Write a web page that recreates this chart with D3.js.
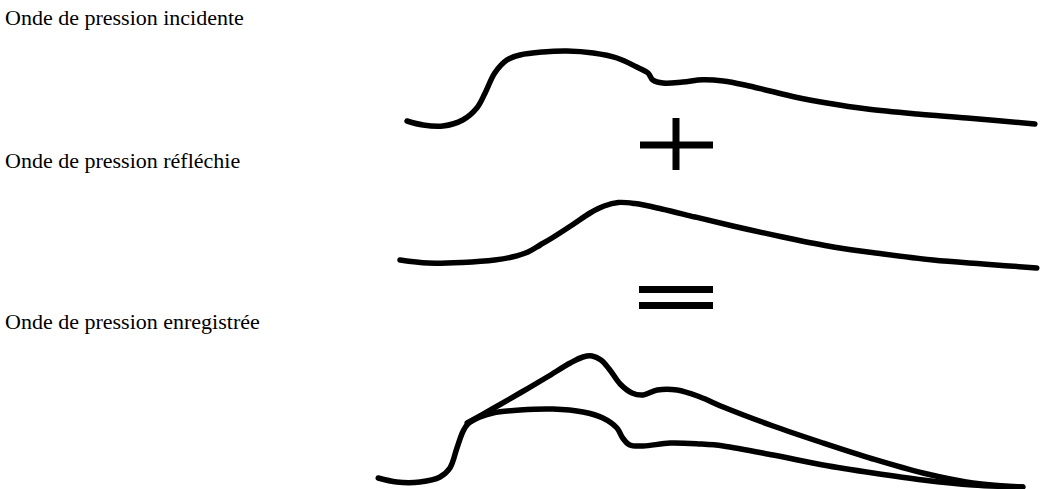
<!DOCTYPE html>
<html>
<head>
<meta charset="utf-8">
<script src="https://cdn.jsdelivr.net/npm/d3@7"></script>
<style>
  body { margin: 0; background: #fff; }
  svg { display: block; }
  .label { font-family: 'Liberation Serif', 'Times New Roman', serif; font-size: 22px; fill: #000; }
  .wave { fill: none; stroke: #000; stroke-width: 5.5px; stroke-linecap: round; stroke-linejoin: round; }
  .sign { stroke: #000; stroke-width: 7px; }
</style>
</head>
<body>
<div id="vis"></div>
<script>
const FRAME_WIDTH = 1059;
const FRAME_HEIGHT = 489;

const labels = ['Onde de pression incidente', 'Onde de pression réfléchie', 'Onde de pression enregistrée'];

// time (arbitrary units) and pressure (arbitrary units)
const incT = [1.1, 3.6, 6.7, 9.8, 12.0, 13.3, 14.8, 16.7, 18.75, 22.3, 26.1, 30.2, 33.9, 37.0, 38.75, 39.5, 41.1, 44.2, 47.3, 50.5, 53.9, 57.8, 61.7, 66.7, 73.0, 80.8, 88.6, 99.2];
const incP = [7.5, 2.5, 1.25, 8.75, 23.75, 42.5, 67.5, 83.75, 90, 93.75, 95, 92.5, 86.25, 75, 67.5, 58.75, 55, 56.25, 59, 57.5, 52.5, 45, 37.5, 30, 22.5, 16.25, 11.25, 3.75];

const refT = [0, 4.4, 9.7, 14.8, 17.5, 20, 21.9, 23.75, 26.9, 29.7, 31.9, 34.1, 36.7, 40.9, 46.1, 52, 59.8, 67.7, 75.5, 83.3, 91.1, 99.5];
const refP = [12.5, 8.75, 9.5, 12.5, 16.25, 22.5, 31.25, 40, 56.25, 71.25, 80, 84.4, 83, 76.25, 66.25, 55, 41.25, 28.75, 20, 12.5, 7.5, 2.5];

const recIncT = [-3.4, -0.5, 3.1, 6.25, 7.8, 8.9, 9.8, 10.6, 12.5, 14.5, 18.75, 23.9, 28.6, 31.7, 33.9, 34.8, 35.9, 38, 42.2, 46.9, 50.5, 58.3, 66.1, 73.9, 81.7, 89.5, 97.3];
const recIncP = [15, 10, 10, 16.25, 27.5, 52.5, 72.5, 82.5, 91.25, 96.25, 100, 101.25, 97.5, 90, 77.5, 65, 56.25, 55, 58.75, 57.5, 55, 43.75, 31.25, 21.25, 12.5, 6.25, 3.75];

const sumT = [10.5, 14.4, 18.75, 23.0, 26.6, 28.6, 30.0, 31.4, 32.8, 34.4, 36.25, 38.0, 40.2, 43.3, 46.9, 50.5, 58.3, 66.1, 73.9, 81.7, 89.5, 97.3];
const sumP = [83.75, 101.25, 121.25, 141.25, 158.75, 166.25, 167.5, 162.5, 150, 132.5, 121.25, 118.75, 125, 125, 116.25, 103.75, 80, 58.75, 38.75, 21.25, 8.75, 3.75];

const svg = d3.select('#vis')
  .append('svg')
    .attr('width', FRAME_WIDTH)
    .attr('height', FRAME_HEIGHT);

// scales
const X_SCALE = d3.scaleLinear().domain([-5, 100]).range([368, 1040]);
const Y_INC = d3.scaleLinear().domain([0, 100]).range([127, 47]);
const Y_REF = d3.scaleLinear().domain([0, 100]).range([270, 190]);
const Y_REC = d3.scaleLinear().domain([0, 170]).range([490, 354]);

function drawWave(ts, ps, yScale) {
  const pts = d3.zip(ts, ps);
  const line = d3.line()
    .x(d => X_SCALE(d[0]))
    .y(d => yScale(d[1]))
    .curve(d3.curveCatmullRom.alpha(0.5));
  svg.append('path')
    .datum(pts)
    .attr('class', 'wave')
    .attr('d', line);
}

drawWave(incT, incP, Y_INC);
drawWave(refT, refP, Y_REF);
drawWave(recIncT, recIncP, Y_REC);
drawWave(sumT, sumP, Y_REC);

// labels
svg.selectAll('text.label')
  .data(labels)
  .enter()
  .append('text')
    .attr('class', 'label')
    .attr('x', 5)
    .attr('y', (d, i) => [25, 168, 329][i])
    .text(d => d);

// plus sign
svg.append('line').attr('class', 'sign').attr('x1', 640).attr('x2', 713).attr('y1', 145).attr('y2', 145);
svg.append('line').attr('class', 'sign').attr('x1', 676).attr('x2', 676).attr('y1', 118).attr('y2', 170);

// equals sign
svg.append('line').attr('class', 'sign').attr('x1', 639).attr('x2', 713).attr('y1', 289.5).attr('y2', 289.5);
svg.append('line').attr('class', 'sign').attr('x1', 639).attr('x2', 713).attr('y1', 305.5).attr('y2', 305.5);
</script>
</body>
</html>
